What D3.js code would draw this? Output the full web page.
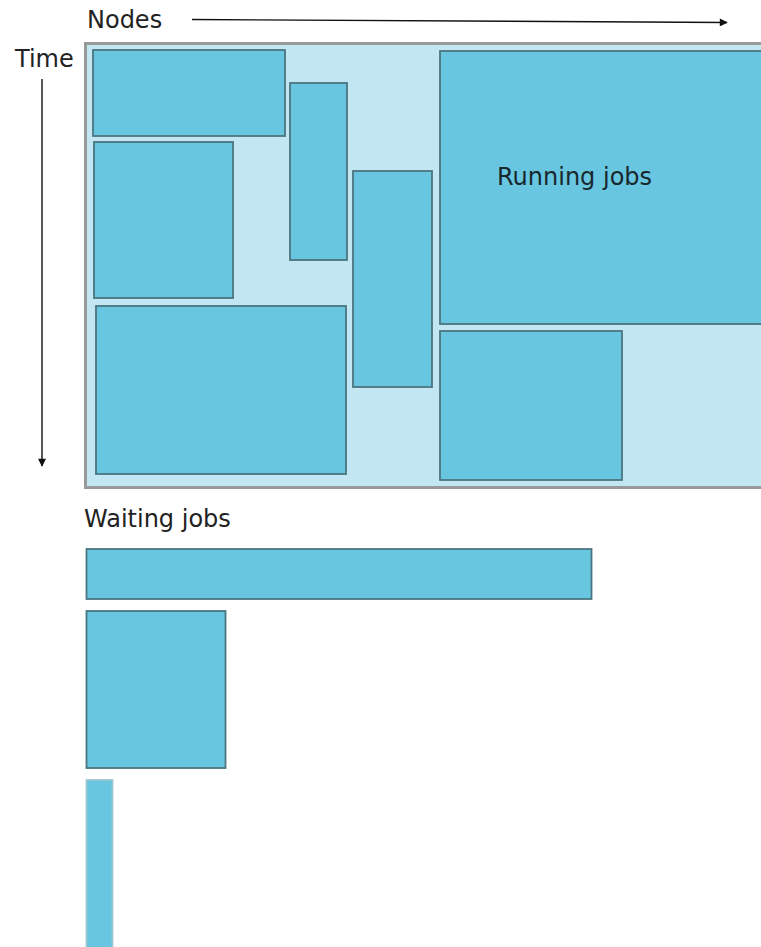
<!DOCTYPE html>
<html>
<head>
<meta charset="utf-8">
<script src="https://cdn.jsdelivr.net/npm/d3@7"></script>
<style>
  html, body { margin: 0; padding: 0; background: #fff; }
  svg { display: block; }
  text { font-family: "DejaVu Sans", sans-serif; font-size: 24px; fill: #222; }
</style>
</head>
<body>
<div id="chart"></div>
<script>
// DATA (nodes along x, time along y, same units for both)
const runningNames = ["j1", "j2", "j3", "j4", "j5", "j6", "j7"]
const runningNodeStart = [9, 10, 12, 206, 269, 356, 356]
const runningNodeEnd = [201, 149, 262, 263, 348, 690, 538]
const runningTimeStart = [8, 100, 264, 41, 129, 9, 289]
const runningTimeEnd = [94, 256, 432, 218, 345, 282, 438]

const waitingNames = ["w1", "w2", "w3"]
const waitingNodes = [505, 139, 26]
const waitingDuration = [50, 157, 200]

const labelRunning = "Running jobs"
const labelWaiting = "Waiting jobs"
const labelNodes = "Nodes"
const labelTime = "Time"

const drawDiagram = () => {
  // ACCESSORS
  const running = runningNames.map((name, i) => ({
    name,
    n0: runningNodeStart[i],
    n1: runningNodeEnd[i],
    t0: runningTimeStart[i],
    t1: runningTimeEnd[i],
  }))
  const waiting = waitingNames.map((name, i) => ({
    name,
    nodes: waitingNodes[i],
    duration: waitingDuration[i],
  }))

  // DIMENSIONS
  let dimensions = {
    width: 761,
    height: 947,
    frame: { left: 85.5, top: 43.5, width: 700, height: 444 },
    queueTop: 549,
    queueGap: 12,
  }

  const wrapper = d3.select("#chart")
    .append("svg")
    .attr("width", dimensions.width)
    .attr("height", dimensions.height)

  const defs = wrapper.append("defs")
  defs.append("marker")
    .attr("id", "head")
    .attr("viewBox", "0 0 10 10")
    .attr("refX", 9)
    .attr("refY", 5)
    .attr("markerWidth", 9)
    .attr("markerHeight", 8)
    .attr("markerUnits", "userSpaceOnUse")
    .attr("orient", "auto")
    .append("path")
    .attr("d", "M0,0L10,5L0,10z")
    .attr("fill", "#111")

  // SCALES
  const xScale = d3.scaleLinear()
    .domain([0, 446])
    .range([84, 530])
  const yScale = d3.scaleLinear()
    .domain([0, 446])
    .range([42, 488])

  // FRAME (the cluster)
  wrapper.append("rect")
    .attr("x", dimensions.frame.left)
    .attr("y", dimensions.frame.top)
    .attr("width", dimensions.frame.width)
    .attr("height", dimensions.frame.height)
    .attr("fill", "#c2e7f2")
    .attr("stroke", "#999")
    .attr("stroke-width", 3)

  wrapper.append("g")
    .selectAll("rect")
    .data(running)
    .join("rect")
      .attr("x", d => xScale(d.n0))
      .attr("y", d => yScale(d.t0))
      .attr("width", d => xScale(d.n1) - xScale(d.n0))
      .attr("height", d => yScale(d.t1) - yScale(d.t0))
      .attr("fill", "#68c6e0")
      .attr("stroke", "#4b7580")
      .attr("stroke-width", 1.8)

  wrapper.append("text")
    .attr("x", 497)
    .attr("y", 185)
    .style("fill", "#18282d")
    .text(labelRunning)

  // WAITING QUEUE
  let cursor = dimensions.queueTop
  const queue = waiting.map(d => {
    const h = yScale(d.duration) - yScale(0)
    const item = { ...d, y: cursor, h }
    cursor += h + dimensions.queueGap
    return item
  })

  wrapper.append("g")
    .selectAll("rect")
    .data(queue)
    .join("rect")
      .attr("x", d => xScale(2.5))
      .attr("y", d => d.y)
      .attr("width", d => xScale(d.nodes) - xScale(0))
      .attr("height", d => d.h)
      .attr("fill", "#68c6e0")
      .attr("stroke", (d, i) => i === queue.length - 1 ? "#9cc6d2" : "#4b7580")
      .attr("stroke-width", 1.8)

  wrapper.append("text")
    .attr("x", 84)
    .attr("y", 527)
    .text(labelWaiting)

  // AXES LABELS + ARROWS
  wrapper.append("text")
    .attr("x", 87)
    .attr("y", 28)
    .text(labelNodes)
  wrapper.append("line")
    .attr("x1", 192)
    .attr("y1", 19.5)
    .attr("x2", 727)
    .attr("y2", 22.5)
    .attr("stroke", "#111")
    .attr("stroke-width", 1.4)
    .attr("marker-end", "url(#head)")

  wrapper.append("text")
    .attr("x", 15)
    .attr("y", 67)
    .text(labelTime)
  wrapper.append("line")
    .attr("x1", 42)
    .attr("y1", 79)
    .attr("x2", 42)
    .attr("y2", 466)
    .attr("stroke", "#111")
    .attr("stroke-width", 1.4)
    .attr("marker-end", "url(#head)")
}

drawDiagram()
</script>
</body>
</html>
